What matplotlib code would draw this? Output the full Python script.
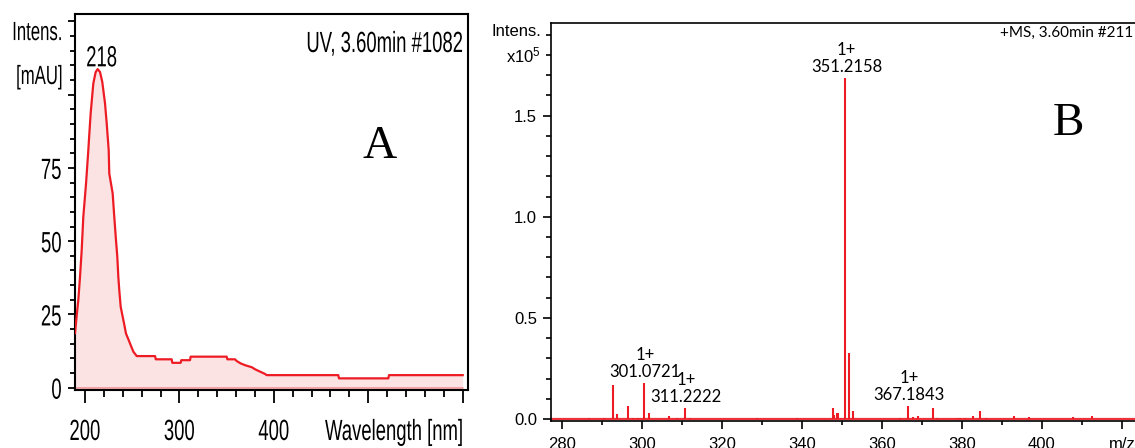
import matplotlib
matplotlib.use('Agg')
import matplotlib.pyplot as plt
from matplotlib.patheffects import AbstractPathEffect
from matplotlib.transforms import Affine2D
from matplotlib.ticker import FixedLocator, MultipleLocator

# ---------------- data: panel A (UV spectrum) ----------------
uv_wavelength = [189.4, 191.8, 192.9, 194.7, 196.5, 198.2, 201.1, 203.5, 204.6, 206.0,
                 208.8, 211.3, 213.4, 215.9, 218.3, 221.2, 223.0, 225.1, 225.7, 229.3,
                 231.0, 232.8, 234.2, 235.3, 236.3, 237.8, 241.3, 243.4, 247.7, 251.2,
                 254.8, 274.2, 275.0, 291.8, 292.5, 301.3, 302.0, 311.2, 311.9, 350.1,
                 350.8, 358.9, 360.7, 364.9, 369.5, 376.6, 380.1, 385.4, 390.7, 392.5,
                 468.3, 469.0, 521.3, 522.0, 600.1]
uv_intensity = [18.6, 26.5, 29.9, 37.8, 47.0, 58.3, 69.7, 81.0, 86.7, 93.6,
                103.8, 107.7, 108.7, 107.7, 104.3, 97.0, 90.1, 81.0, 73.1, 66.3,
                58.3, 50.4, 44.7, 37.8, 33.3, 27.6, 22.0, 18.5, 15.1, 12.3,
                10.8, 10.8, 9.7, 9.7, 8.5, 8.5, 9.4, 9.4, 10.6, 10.6,
                9.7, 9.7, 9.1, 8.3, 7.7, 7.0, 6.3, 5.5, 4.7, 4.3,
                4.3, 3.2, 3.2, 4.3, 4.3]
uv_peak_label = '218'
uv_title = 'UV, 3.60min #1082'
uv_xticks = [200, 300, 400, 500, 600]
uv_xticklabels = ['200', '300', '400', '', '']
uv_yticks = [0, 25, 50, 75, 100, 125]
uv_yticklabels = ['0', '25', '50', '75', '', '']

# ---------------- data: panel B (mass spectrum) ----------------
ms_mz = [286.6, 290.5, 292.6, 293.8, 296.4, 297.6, 298.9, 300.4, 301.7, 306.7,
         308.7, 310.6, 311.9, 328.6, 338.7, 347.7, 348.1, 348.7, 349.0, 349.8,
         350.8, 351.7, 352.7, 364.5, 366.5, 367.8, 369.0, 372.8, 373.7, 378.7,
         379.5, 380.7, 382.7, 384.5, 385.9, 392.9, 396.7, 407.9, 412.6]
ms_intensity = [0.007, 0.007, 0.168, 0.023, 0.064, 0.007, 0.007, 0.178, 0.028, 0.014,
                0.007, 0.054, 0.007, 0.007, 0.007, 0.056, 0.022, 0.028, 0.028, 0.007,
                1.688, 0.325, 0.040, 0.007, 0.064, 0.008, 0.016, 0.056, 0.006, 0.006,
                0.006, 0.006, 0.016, 0.040, 0.006, 0.014, 0.008, 0.008, 0.014]
ms_label_mz = [300.4, 310.6, 350.8, 366.5]
ms_label_text = ['301.0721', '311.2222', '351.2158', '367.1843']
ms_label_charge = ['1+', '1+', '1+', '1+']
ms_title = '+MS, 3.60min #211'
ms_xticks = [280, 300, 320, 340, 360, 380, 400, 420]
ms_xticklabels = ['280', '300', '320', '340', '360', '380', '400', 'm/z']
ms_yticks = [0.0, 0.5, 1.0, 1.5]
ms_yticklabels = ['0.0', '0.5', '1.0', '1.5']

RED = '#ed1c24'
FILL = '#fce3e3'
BAND = '#f3a3a8'

plt.rcParams['mathtext.fontset'] = 'custom'
plt.rcParams['mathtext.rm'] = 'Liberation Sans'
plt.rcParams['mathtext.default'] = 'regular'


class Squash(AbstractPathEffect):
    """Draw text horizontally condensed (like the narrow font of the original)."""
    def __init__(self, sx=0.634, ha='left'):
        super().__init__()
        self.sx = sx
        self.ha = ha

    def draw_path(self, renderer, gc, tpath, affine, rgbFace=None):
        if len(tpath.vertices) == 0:
            return
        w = tpath.get_extents().x1
        frac = {'left': 0.0, 'center': 0.5, 'right': 1.0}[self.ha]
        pre = Affine2D().scale(self.sx, 1.0).translate(frac * (1 - self.sx) * w, 0)
        renderer.draw_path(gc, tpath, pre + affine, rgbFace)


W, H = 1135, 448
fig = plt.figure(figsize=(W / 100, H / 100), dpi=100)

# ======================= Panel A =======================
axA = fig.add_axes([75 / W, 1 - 389.5 / H, 393.3 / W, 375.5 / H])
axA.fill_between(uv_wavelength, uv_intensity, 0, color=FILL, lw=0, zorder=1)
axA.plot([uv_wavelength[0], uv_wavelength[-1]], [0, 0], color=BAND, lw=2.2,
         solid_capstyle='butt', zorder=2)
axA.plot(uv_wavelength, uv_intensity, color=RED, lw=1.6, zorder=3)
axA.set_xlim(189.4, 606)
axA.set_ylim(-0.6, 127.5)
for s in axA.spines.values():
    s.set_linewidth(1.5)
axA.xaxis.set_major_locator(FixedLocator(uv_xticks))
axA.set_xticklabels(uv_xticklabels)
axA.xaxis.set_minor_locator(MultipleLocator(20))
axA.yaxis.set_major_locator(FixedLocator(uv_yticks))
axA.set_yticklabels(uv_yticklabels)
axA.yaxis.set_minor_locator(MultipleLocator(5))
axA.tick_params(axis='x', which='major', direction='out', length=9.4, width=1.3,
                pad=11.1, labelsize=21, labelfontfamily='Liberation Sans')
axA.tick_params(axis='x', which='minor', direction='out', length=5, width=1.3)
axA.tick_params(axis='y', which='major', direction='out', length=5, width=1.3,
                pad=4.4, labelsize=21, labelfontfamily='Liberation Sans')
axA.tick_params(axis='y', which='minor', direction='out', length=3.6, width=1.3)
for lab in axA.get_xticklabels():
    lab.set_path_effects([Squash(ha='center')])
for lab in axA.get_yticklabels():
    lab.set_path_effects([Squash(ha='right')])

iA = uv_intensity.index(max(uv_intensity))
axA.annotate(uv_peak_label, xy=(uv_wavelength[iA], uv_intensity[iA]), xytext=(3, 2),
             textcoords='offset points', ha='center', va='baseline', fontsize=21,
             family='Liberation Sans', path_effects=[Squash(ha='center')])
axA.annotate('Intens.', xy=(0, 121), xycoords=('axes fraction', 'data'), xytext=(-8.4, 0),
             textcoords='offset points', ha='right', va='center', fontsize=19,
             family='Liberation Sans', path_effects=[Squash(ha='right')], annotation_clip=False)
axA.annotate('[mAU]', xy=(0, 106), xycoords=('axes fraction', 'data'), xytext=(-8.4, 0),
             textcoords='offset points', ha='right', va='center', fontsize=19,
             family='Liberation Sans', path_effects=[Squash(ha='right')], annotation_clip=False)
axA.annotate('Wavelength [nm]', xy=(601, 0), xycoords=('data', 'axes fraction'),
             xytext=(0, -20.5), textcoords='offset points', ha='right', va='top',
             fontsize=21, family='Liberation Sans', path_effects=[Squash(ha='right')],
             annotation_clip=False)
fig.text(463 / W, 1 - 52 / H, uv_title, ha='right', va='baseline', fontsize=21,
         family='Liberation Sans', path_effects=[Squash(ha='right')])
fig.text(380 / W, 1 - 158 / H, 'A', ha='center', va='baseline', fontsize=34,
         family='Liberation Serif')

# ======================= Panel B =======================
axB = fig.add_axes([551 / W, 1 - 421 / H, (W - 551) / W, (421 - 22.7) / H])
axB.axhline(0, color=RED, lw=1.6, alpha=0.9, zorder=2)
axB.vlines(ms_mz, 0, ms_intensity, color=RED, lw=1.5, zorder=3)
axB.set_xlim(277.17, 423.3)
axB.set_ylim(-0.0099, 1.96)
axB.spines['right'].set_visible(False)
for s in ('left', 'top', 'bottom'):
    axB.spines[s].set_linewidth(1.2)
axB.xaxis.set_major_locator(FixedLocator(ms_xticks))
axB.set_xticklabels(ms_xticklabels)
axB.xaxis.set_minor_locator(MultipleLocator(10))
axB.yaxis.set_major_locator(FixedLocator(ms_yticks))
axB.set_yticklabels(ms_yticklabels)
axB.yaxis.set_minor_locator(MultipleLocator(0.1))
axB.tick_params(axis='x', which='major', direction='out', length=5.5, width=1.2,
                pad=5.8, labelsize=12, labelfontfamily='Liberation Sans')
axB.tick_params(axis='x', which='minor', direction='out', length=3.1, width=1.2)
axB.tick_params(axis='y', which='major', direction='out', length=5.8, width=1.2,
                pad=4.2, labelsize=12, labelfontfamily='Liberation Sans')
axB.tick_params(axis='y', which='minor', direction='out', length=3.6, width=1.2)

for mz, txt, ch in zip(ms_label_mz, ms_label_text, ms_label_charge):
    h = ms_intensity[ms_mz.index(mz)]
    axB.annotate(f'{ch}\n{txt}', xy=(mz, h), xytext=(1, 2), textcoords='offset points',
                 ha='center', va='bottom', fontsize=12, family='Lato', linespacing=1.1)
axB.annotate('Intens.', xy=(0, 1.915), xycoords=('axes fraction', 'data'), xytext=(-7.2, 0),
             textcoords='offset points', ha='right', va='center', fontsize=12,
             family='Liberation Sans', annotation_clip=False)
axB.annotate('x10$^5$', xy=(0, 1.80), xycoords=('axes fraction', 'data'), xytext=(-7.2, 0),
             textcoords='offset points', ha='right', va='center', fontsize=12,
             family='Liberation Sans', annotation_clip=False)
fig.text(1133 / W, 1 - 33 / H, ms_title, ha='right', va='center', fontsize=11,
         family='Lato')
fig.text(1068 / W, 1 - 135 / H, 'B', ha='center', va='baseline', fontsize=34,
         family='Liberation Serif')

fig.savefig('out.png', dpi=100)
